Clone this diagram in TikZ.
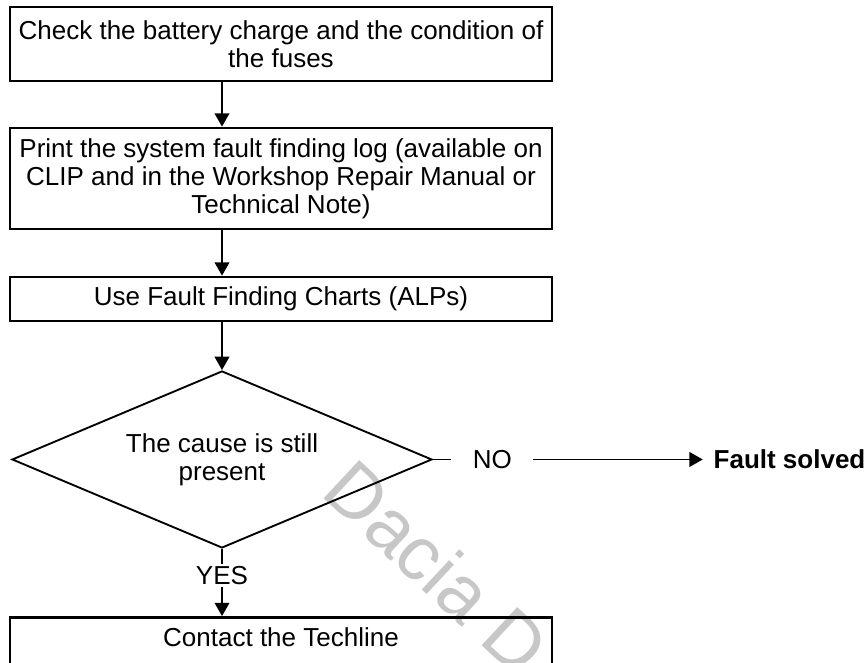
\documentclass[tikz,border=0pt]{standalone}
\usepackage{fontspec}
\setmainfont{Liberation Sans}
\usetikzlibrary{arrows.meta, positioning, shapes.geometric}

\begin{document}
\begin{tikzpicture}[line width=1.4pt, font=\fontsize{19.5}{21}\selectfont]

	\tikzset{
		stepbox/.style={
				draw, line width=2pt, align=center, inner sep=0pt, minimum width=406.5pt
			},
		query/.style={
				diamond, draw, align=center, inner sep=0pt, aspect=2.36, minimum width=315pt, minimum height=132.75pt
			},
		answer/.style={
				inner xsep=15.5pt, inner ysep=1pt
			},
		arr/.style={
				-{Triangle[length=10pt, width=11pt]}
			},
	}
	\useasboundingbox (0,0) rectangle (651pt,-496.5pt);

	% watermark
	\node[rotate=-43, anchor=base west, text=black!22, font=\fontsize{57}{57}\selectfont](wm) at (237pt,-368.25pt){Dacia D};

	\node[stepbox, minimum height=55.5pt](b1) at (210.75pt,-33pt){Check the battery charge and the condition of\\
		the fuses};
	\node[stepbox, minimum height=75.75pt, below=33.25pt of b1](b2){Print the system fault finding log (available on\\
		CLIP and in the Workshop Repair Manual or\\
		Technical Note)};
	\node[stepbox, minimum height=33pt, below=34pt of b2](b3){Use Fault Finding Charts (ALPs)};
	\node[query](dia) at (166.5pt,-344.6pt){The cause is still\\present};
	\node[answer, inner xsep=1pt, below=11.5pt of dia](yes){YES};
	\node[answer, right=13.7pt of dia](no){NO};
	\node[inner xsep=7.5pt, right=127pt of no, font=\fontsize{19.5}{21}\selectfont\bfseries](fs){Fault solved};
	\coordinate (c4) at (yes.south -| b3.south);
	\node[stepbox, inner ysep=7.5pt, below=21.7pt of c4](b4){Contact the Techline\\ \mbox{}};

	\draw[arr] (b1.south -| dia.north)--(b2.north -| dia.north);
	\draw[arr] (b2.south -| dia.north)--(b3.north -| dia.north);
	\draw[arr] (b3.south -| dia.north)--(dia.north);
	\draw (dia.south)--(yes.north);
	\draw[arr] (yes.south)--(b4.north -| yes.south);
	\draw (dia.east)--(no.west);
	\draw[arr] (no.east)--(fs.west);

\end{tikzpicture}
\end{document}
